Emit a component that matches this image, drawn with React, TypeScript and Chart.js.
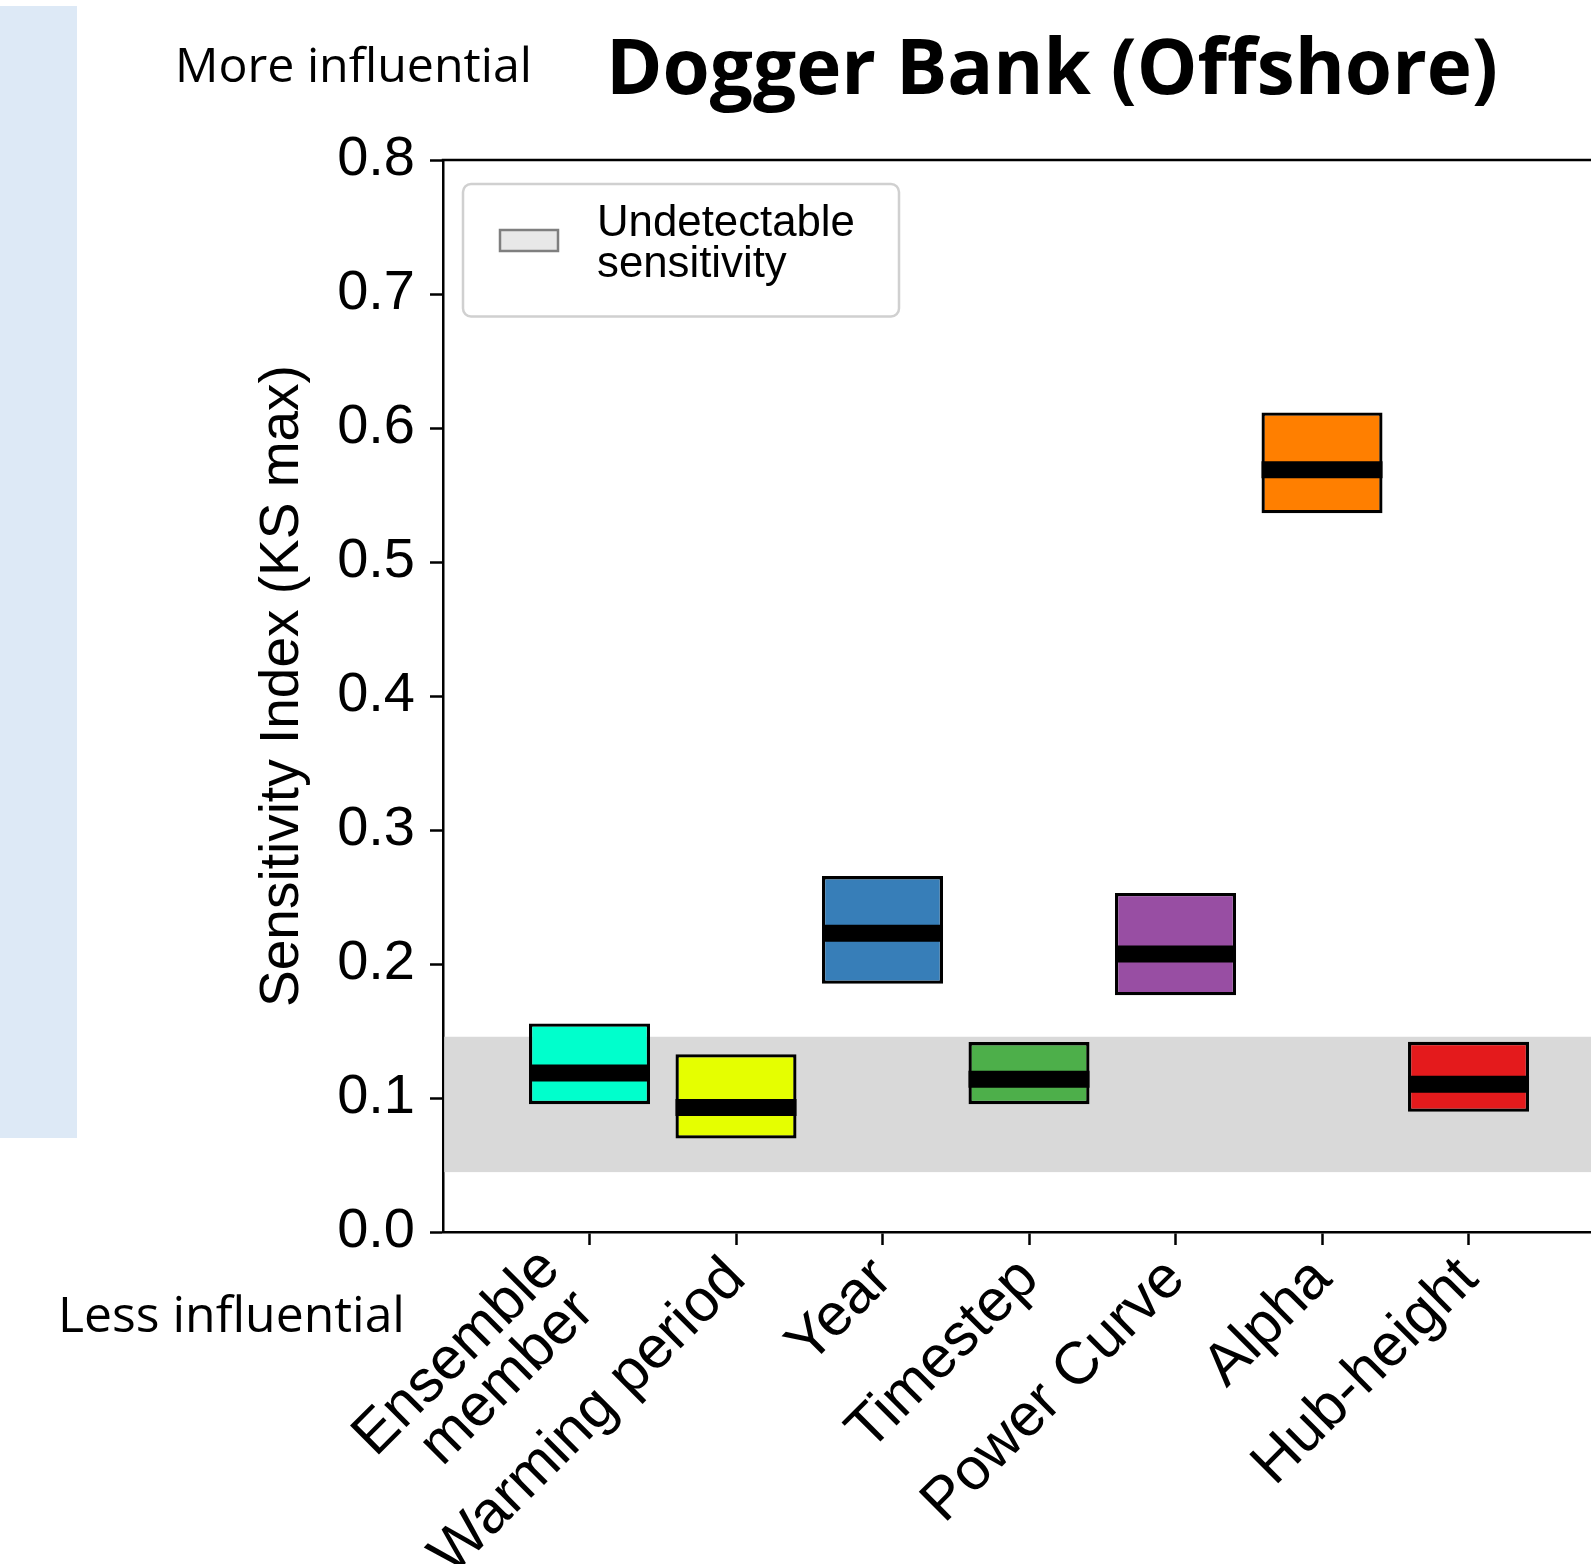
import React, { useEffect, useRef } from 'react';
import { Chart, registerables } from 'chart.js';

Chart.register(...registerables);

const categories: string[][] = [['Ensemble', 'member'], ['Warming period'], ['Year'], ['Timestep'], ['Power Curve'], ['Alpha'], ['Hub-height']];
const boxLow = [0.0954, 0.0697, 0.1852, 0.0954, 0.1766, 0.5364, 0.0897];
const boxHigh = [0.1556, 0.1327, 0.2656, 0.1417, 0.2530, 0.6116, 0.1419];
const medians = [0.1187, 0.0930, 0.2229, 0.1139, 0.2074, 0.5688, 0.1103];
const boxColors = ['#00ffcc', '#e5ff00', '#377eb8', '#4daf4a', '#984ea3', '#ff7f00', '#e41a1c'];
const bandRange = [0.0447, 0.1457];
const yMin = 0;
const yMax = 0.8;
const yStep = 0.1;
const titleText = 'Dogger Bank (Offshore)';
const yTitle = 'Sensitivity Index (KS max)';
const legendLines = ['Undetectable', 'sensitivity'];
const topNote = 'More influential';
const bottomNote = 'Less influential';

const W = 1591;
const H = 1564;
const AX = '"Liberation Sans", Arial, sans-serif';
const HUM = '"Open Sans", "Noto Sans", sans-serif';

function fitFont(ctx: CanvasRenderingContext2D, text: string, weight: string, family: string, target: number) {
  ctx.font = `${weight} 100px ${family}`;
  const w = ctx.measureText(text).width;
  return (100 * target) / w;
}

const decorPlugin = {
  id: 'decor',
  beforeDraw(chart: any) {
    const ctx = chart.ctx as CanvasRenderingContext2D;
    ctx.save();
    ctx.fillStyle = '#ffffff';
    ctx.fillRect(0, 0, W, H);
    ctx.fillStyle = '#dde9f6';
    ctx.fillRect(0, 6, 77, 1132);
    ctx.restore();
  },
  beforeDatasetsDraw(chart: any) {
    const ctx = chart.ctx as CanvasRenderingContext2D;
    const { chartArea } = chart;
    const y = chart.scales.y;
    const y1 = y.getPixelForValue(bandRange[1]);
    const y0 = y.getPixelForValue(bandRange[0]);
    ctx.save();
    ctx.fillStyle = '#d9d9d9';
    ctx.fillRect(chartArea.left + 1.3, y1, chartArea.right - chartArea.left, y0 - y1);
    ctx.restore();
  },
  afterDraw(chart: any) {
    const ctx = chart.ctx as CanvasRenderingContext2D;
    const { chartArea } = chart;
    const xs = chart.scales.x;
    ctx.save();
    // top spine
    ctx.strokeStyle = '#000';
    ctx.lineWidth = 2.5;
    ctx.beginPath();
    ctx.moveTo(chartArea.left - 1.25, chartArea.top);
    ctx.lineTo(chartArea.right + 2, chartArea.top);
    ctx.stroke();

    // x tick labels, rotated 45 degrees, right-aligned to the tick
    ctx.fillStyle = '#000';
    ctx.font = `normal 59.5px ${AX}`;
    ctx.textAlign = 'right';
    ctx.textBaseline = 'alphabetic';
    const axisY = chartArea.bottom;
    categories.forEach((lines, i) => {
      const px = xs.getPixelForValue(i);
      const n = lines.length;
      lines.forEach((line, k) => {
        let rx = px + 12;
        let ry = axisY + 49;
        if (n > 1) {
          const back = n - 1 - k;
          rx = px + 7 - back * 34;
          ry = axisY + 81 - back * 42;
        }
        ctx.save();
        ctx.translate(rx, ry);
        ctx.rotate(-Math.PI / 4);
        ctx.fillText(line, 0, 0);
        ctx.restore();
      });
    });

    ctx.textAlign = 'left';
    // title
    let s = fitFont(ctx, titleText, 'bold', HUM, 892);
    ctx.font = `bold ${s}px ${HUM}`;
    ctx.fillText(titleText, 606, 94);
    // notes
    s = fitFont(ctx, topNote, 'normal', HUM, 357);
    ctx.font = `normal ${s}px ${HUM}`;
    ctx.fillText(topNote, 175, 82);
    s = fitFont(ctx, bottomNote, 'normal', HUM, 347);
    ctx.font = `normal ${s}px ${HUM}`;
    ctx.fillText(bottomNote, 58, 1332);

    // y title
    ctx.save();
    ctx.translate(298, 686);
    ctx.rotate(-Math.PI / 2);
    ctx.font = `normal 55px ${AX}`;
    ctx.textAlign = 'center';
    ctx.fillText(yTitle, 0, 0);
    ctx.restore();

    // legend
    const lx = 463, ly = 184, lw = 436, lh = 132.5, r = 8;
    ctx.fillStyle = 'rgba(255,255,255,0.85)';
    ctx.strokeStyle = '#d0d0d0';
    ctx.lineWidth = 2.5;
    ctx.beginPath();
    ctx.moveTo(lx + r, ly);
    ctx.lineTo(lx + lw - r, ly);
    ctx.arcTo(lx + lw, ly, lx + lw, ly + r, r);
    ctx.lineTo(lx + lw, ly + lh - r);
    ctx.arcTo(lx + lw, ly + lh, lx + lw - r, ly + lh, r);
    ctx.lineTo(lx + r, ly + lh);
    ctx.arcTo(lx, ly + lh, lx, ly + lh - r, r);
    ctx.lineTo(lx, ly + r);
    ctx.arcTo(lx, ly, lx + r, ly, r);
    ctx.closePath();
    ctx.fill();
    ctx.stroke();
    ctx.fillStyle = '#e8e8e8';
    ctx.strokeStyle = '#7f7f7f';
    ctx.lineWidth = 2.5;
    ctx.fillRect(500, 230, 58, 21);
    ctx.strokeRect(500, 230, 58, 21);
    ctx.fillStyle = '#000';
    s = fitFont(ctx, legendLines[0], 'normal', AX, 258);
    ctx.font = `normal ${s}px ${AX}`;
    ctx.textAlign = 'left';
    ctx.fillText(legendLines[0], 597, 236);
    ctx.fillText(legendLines[1], 597, 277);
    ctx.restore();
  },
};

export default function App() {
  const ref = useRef<HTMLCanvasElement | null>(null);
  useEffect(() => {
    const canvas = ref.current;
    if (!canvas) return;
    const chart = new Chart(canvas, {
      type: 'bar',
      data: {
        datasets: [
          {
            type: 'scatter',
            label: 'median',
            data: medians.map((m, i) => ({ x: i, y: m })),
            showLine: false,
            pointStyle: 'line',
            pointRadius: 60.5,
            pointHoverRadius: 60.5,
            pointBorderWidth: 17,
            pointHoverBorderWidth: 17,
            pointBorderColor: '#000',
            borderColor: '#000',
            backgroundColor: '#000',
            clip: false,
            order: 1,
          } as any,
          {
            type: 'bar',
            label: 'range',
            data: boxLow.map((lo, i) => ({ x: i, y: [lo, boxHigh[i]] })) as any,
            backgroundColor: boxColors,
            borderColor: '#000',
            borderWidth: 3.3,
            borderSkipped: false,
            barPercentage: 1,
            categoryPercentage: 0.826,
            order: 2,
          } as any,
        ],
      },
      options: {
        responsive: false,
        animation: false,
        events: [],
        layout: { autoPadding: false, padding: { left: 0, top: 160, right: 0, bottom: 0 } },
        plugins: {
          legend: { display: false },
          tooltip: { enabled: false },
          title: { display: false },
        },
        scales: {
          x: {
            type: 'linear',
            min: -1,
            max: 6.836,
            offset: false,
            afterBuildTicks: (s: any) => {
              s.ticks = categories.map((_, i) => ({ value: i }));
            },
            afterFit: (s: any) => {
              s.height = H - 1232;
              s.paddingLeft = 0;
              s.paddingRight = 0;
            },
            ticks: { display: false, autoSkip: false },
            grid: { offset: false, drawOnChartArea: false, drawTicks: true, tickLength: 13, tickColor: '#000', tickWidth: 2.5 },
            border: { display: true, color: '#000', width: 2.5 },
          },
          y: {
            type: 'linear',
            min: yMin,
            max: yMax,
            afterFit: (s: any) => {
              s.width = 443;
              s.paddingTop = 0;
              s.paddingBottom = 0;
            },
            ticks: {
              stepSize: yStep,
              padding: 15,
              color: '#000',
              font: { family: AX, size: 56 },
              callback: (v: any) => Number(v).toFixed(1),
            },
            grid: { drawOnChartArea: false, drawTicks: true, tickLength: 13, tickColor: '#000', tickWidth: 2.5 },
            border: { display: true, color: '#000', width: 2.5 },
          },
        },
      },
      plugins: [decorPlugin],
    } as any);
    return () => chart.destroy();
  }, []);
  return (
    <div style={{ position: 'fixed', left: 0, top: 0, width: W, height: H, overflow: 'hidden', background: '#fff' }}>
      <canvas ref={ref} width={W} height={H} style={{ display: 'block', width: W, height: H }} />
    </div>
  );
}
